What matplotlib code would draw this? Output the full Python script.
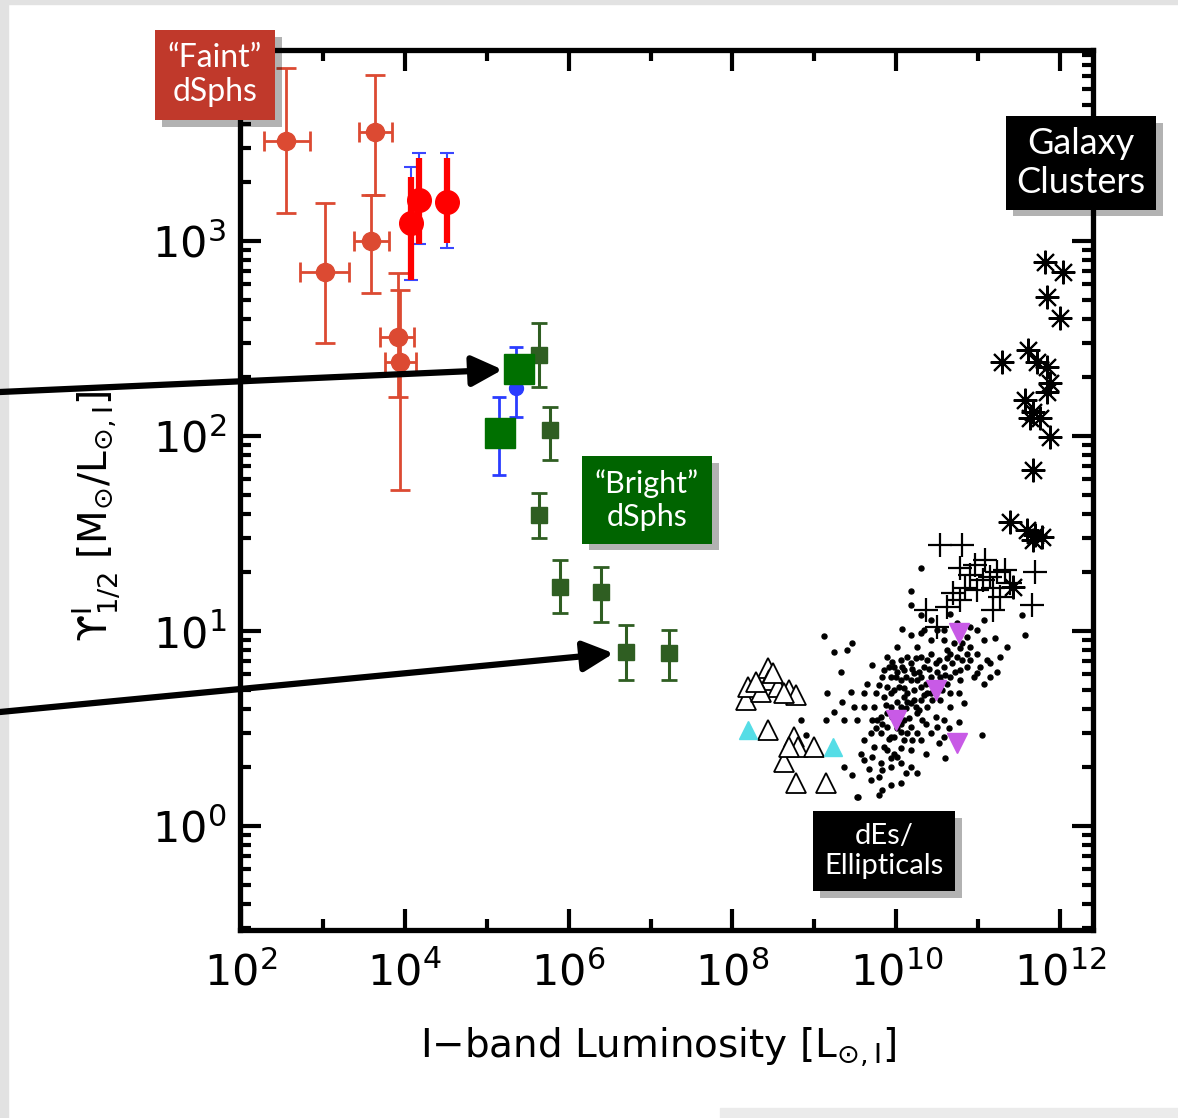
import numpy as np
import matplotlib
matplotlib.use("Agg")
import matplotlib.pyplot as plt
from matplotlib import ticker, patheffects
from matplotlib.patches import Rectangle

################################################################################
# "Faint" dSphs (older measurements): luminosity, M/L and their ranges
faint_L = np.array([353, 1054, 4285, 3828, 8395, 8650])
faint_L_lo = np.array([191, 523, 2735, 2377, 4930, 5675])
faint_L_hi = np.array([692, 2065, 6905, 6353, 13150, 13930])
faint_M = np.array([3258, 693, 3622, 1000, 322, 239])
faint_M_lo = np.array([1393, 300, 1722, 541, 158, 52.8])
faint_M_hi = np.array([7710, 1567, 7100, 1722, 685, 561])

# newly highlighted faint dSphs (red) with the old blue bars behind them
new_L = np.array([12100, 15140, 33190])
new_M = np.array([1237, 1622, 1585])
new_M_lo = np.array([631, 966, 977])
new_M_hi = np.array([2128, 2667, 2667])
old_M_lo = np.array([631, 966, 920])
old_M_hi = np.array([2393, 2825, 2825])

# blue points hidden under the big green squares
blue_L = np.array([230000, 143000])
blue_M = np.array([176, 99])
blue_M_lo = np.array([125, 63])
blue_M_hi = np.array([286, 158])

# big green squares (moved to the "bright" group)
big_L = np.array([250000, 147000])
big_M = np.array([221, 103.5])

# "Bright" dSphs
bright_L = np.array([438000, 597000, 438000, 791000, 2.49e6, 5.04e6, 1.68e7])
bright_M = np.array([260, 107, 39.4, 16.8, 15.8, 7.8, 7.7])
bright_M_lo = np.array([178, 75, 30, 12.4, 11.1, 5.6, 5.6])
bright_M_hi = np.array([379, 141, 51, 23.1, 21.3, 10.7, 10.1])

# dEs (open triangles), log10 values
tri_logL = [8.163, 8.188, 8.431, 8.443, 8.553, 8.687, 8.772, 8.346, 8.492, 8.626, 8.285,
            8.431, 8.748, 8.797, 8.992, 8.626, 8.772, 9.138, 8.687]
tri_logM = [0.646, 0.713, 0.810, 0.749, 0.713, 0.697, 0.672, 0.687, 0.785, 0.682, 0.738,
            0.492, 0.456, 0.405, 0.405, 0.328, 0.221, 0.221, 0.405]
cyan_logL = [8.188, 9.223]
cyan_logM = [0.492, 0.405]

# magenta down triangles
mag_logL = [10.762, 10.478, 9.99, 10.741]
mag_logM = [0.988, 0.697, 0.543, 0.424]

# ellipticals (small dots), log10 values
ell_logL = [10.295, 10.173, 10.173, 10.072, 9.117, 9.463, 9.239, 9.402, 9.706, 9.32,
            9.645, 9.442, 9.158, 9.341, 9.239, 9.138, 9.361, 9.605, 9.686, 9.361,
            9.463, 9.605, 9.706, 9.787, 9.929, 10.051, 9.523, 9.828, 10.254, 10.356,
            10.599, 10.518, 10.64, 10.762, 10.823, 10.762, 11.046, 11.066, 11.229, 11.269,
            11.208, 11.35, 10.944, 10.863, 10.985, 11.107, 10.904, 10.782, 10.62, 10.417,
            10.295, 10.173, 10.254, 10.011, 9.889, 9.97, 9.828, 10.051, 10.173, 10.335,
            10.478, 10.417, 10.295, 10.132, 9.97, 9.848, 9.726, 9.808, 9.929, 10.051,
            10.173, 10.295, 10.417, 10.538, 10.66, 10.579, 10.681, 10.741, 10.173, 10.092,
            10.173, 10.254, 10.376, 10.478, 10.579, 10.66, 9.889, 9.767, 9.97, 10.092,
            10.173, 9.97, 9.848, 9.726, 10.051, 9.929, 9.808, 10.173, 10.295, 10.417,
            9.564, 9.666, 9.523, 9.605, 9.929, 10.092, 10.295, 10.417, 10.579, 10.701,
            10.863, 10.985, 11.066, 10.498, 10.335, 10.62, 10.782, 10.214, 9.848, 9.483,
            9.889, 10.011, 10.214, 10.051, 10.538, 10.66, 10.498, 10.356, 10.579, 10.782,
            10.904, 11.026, 11.147, 9.909, 10.011, 10.112, 10.254, 10.356, 10.031, 9.929,
            10.092, 10.214, 10.01, 9.868, 10.112, 10.234, 9.95, 10.051, 10.153, 10.315,
            10.376, 10.457, 10.559, 10.498, 10.376, 10.234, 10.132, 10.051, 9.929, 9.808,
            10.254, 9.889, 10.011, 9.747, 9.706, 10.66, 10.802, 10.599, 10.295, 8.833,
            8.894, 11.574, 11.537, 9.527, 9.783,
            9.95, 10.072, 10.193, 10.274, 10.396, 10.518, 10.62, 10.721, 10.559, 10.437,
            10.335, 10.092, 9.99, 9.787, 9.889, 10.132, 10.275, 10.011, 9.828, 9.909,
            10.132, 10.193, 10.051, 9.929, 9.828, 10.112, 9.686, 9.605, 9.747, 10.802,
            11.066, 10.904, 10.741, 10.579, 10.417, 10.295, 10.66, 10.863, 10.985, 11.147]
ell_logM = [1.321, 1.207, 1.133, 1.013, 0.974, 0.94, 0.894, 0.902, 0.825, 0.791,
            0.731, 0.689, 0.68, 0.637, 0.586, 0.543, 0.543, 0.612, 0.475, 0.304,
            0.261, 0.338, 0.355, 0.253, 0.21, 0.219, 0.15, 0.184, 0.27, 0.372,
            0.347, 0.424, 0.501, 0.535, 0.629, 0.68, 0.466, 0.731, 0.791, 0.868,
            0.962, 0.919, 0.766, 0.817, 0.885, 0.851, 0.919, 0.911, 0.902, 0.954,
            0.988, 0.979, 0.919, 0.919, 0.868, 0.817, 0.766, 0.748, 0.834, 0.817,
            0.834, 0.766, 0.714, 0.68, 0.697, 0.663, 0.612, 0.56, 0.612, 0.612,
            0.629, 0.646, 0.68, 0.766, 0.766, 0.817, 0.834, 0.868, 0.748, 0.543,
            0.509, 0.578, 0.612, 0.56, 0.543, 0.612, 0.509, 0.543, 0.458, 0.441,
            0.39, 0.372, 0.407, 0.407, 0.321, 0.304, 0.321, 0.304, 0.441, 0.475,
            0.372, 0.295, 0.543, 0.68, 0.766, 0.8, 0.868, 0.885, 0.954, 0.937,
            0.971, 1.005, 1.056, 1.005, 1.005, 0.731, 0.748, 0.783, 0.8, 0.612,
            0.578, 0.56, 0.697, 0.851, 0.646, 0.68, 0.509, 0.526, 0.458, 0.8,
            0.851, 0.817, 0.834, 0.817, 0.791, 0.766, 0.748, 0.731, 0.714, 0.68,
            0.663, 0.646, 0.637, 0.62, 0.603, 0.612, 0.56, 0.526, 0.552, 0.543,
            0.68, 0.714, 0.697, 0.791, 0.851, 0.86, 0.868, 0.484, 0.458, 0.475,
            0.475, 0.39, 0.355, 0.68, 0.543, 0.885, 0.851, 0.774, 0.766, 0.544,
            0.467, 0.979, 1.082, 0.149, 0.159,
            0.842, 0.817, 0.808, 0.791, 0.808, 0.851, 0.86, 0.791, 0.74, 0.646,
            0.672, 0.706, 0.766, 0.723, 0.714, 0.637, 0.595, 0.501, 0.526, 0.449,
            0.475, 0.441, 0.398, 0.347, 0.287, 0.27, 0.236, 0.441, 0.501, 0.937,
            0.954, 1.022, 1.039, 1.005, 1.056, 1.082, 1.09, 0.885, 0.783, 0.766]

# giant ellipticals (plus signs)
plus_logL = [10.538, 10.806, 10.782, 10.965, 11.087, 11.147, 11.233, 11.062, 11.184, 11.696,
             11.659, 10.782, 10.624, 10.356, 11.184, 11.269, 10.843, 10.502, 11.391, 10.989,
             10.697, 10.904, 11.330]
plus_logM = [1.441, 1.441, 1.323, 1.338, 1.364, 1.277, 1.303, 1.262, 1.221, 1.303,
             1.133, 1.159, 1.123, 1.108, 1.108, 1.174, 1.221, 1.021, 1.246, 1.210,
             1.195, 1.287, 1.313]

# galaxy clusters (asterisks)
clus_logL = [11.817, 12.037, 11.842, 12.0, 11.294, 11.61, 11.72, 11.842, 11.878, 11.842,
             11.574, 11.671, 11.756, 11.635, 11.878, 11.671, 11.391, 11.598, 11.696, 11.781,
             11.671, 11.428]
clus_logM = [2.892, 2.841, 2.713, 2.605, 2.379, 2.441, 2.379, 2.354, 2.272, 2.226,
             2.185, 2.123, 2.092, 2.092, 1.995, 1.826, 1.559, 1.518, 1.492, 1.482,
             1.467, 1.226]

x_major = [1e2, 1e4, 1e6, 1e8, 1e10, 1e12]
x_minor = [1e3, 1e5, 1e7, 1e9, 1e11]
y_major = [1e0, 1e1, 1e2, 1e3]

################################################################################

plt.rcParams["mathtext.fontset"] = "dejavusans"
fig = plt.figure(figsize=(11.78, 11.18), dpi=100)
W, H = 1178.0, 1118.0

# slide frame
fig.patches.append(Rectangle((0, 0), 8 / W, 1, transform=fig.transFigure, color="#e2e2e2", zorder=-5))
fig.patches.append(Rectangle((0, 1 - 4 / H), 1, 4 / H, transform=fig.transFigure, color="#e2e2e2", zorder=-5))
fig.patches.append(Rectangle((720 / W, 0), 1, 10 / H, transform=fig.transFigure, color="#ebebeb", zorder=-5))

ax = fig.add_axes([240 / W, 1 - 930 / H, 853 / W, 880 / H])
ax.set_xscale("log")
ax.set_yscale("log")
ax.set_xlim(10 ** 1.99, 10 ** 12.4)
ax.set_ylim(10 ** -0.533, 10 ** 3.98)

# faint dSphs
ax.errorbar(faint_L, faint_M,
            xerr=[faint_L - faint_L_lo, faint_L_hi - faint_L],
            yerr=[faint_M - faint_M_lo, faint_M_hi - faint_M],
            fmt="o", color="#dc4a32", ms=13, elinewidth=2, capsize=7, capthick=2, zorder=3)
ax.errorbar(new_L, new_M, yerr=[new_M - old_M_lo, old_M_hi - new_M],
            fmt="none", ecolor="#3a46ff", elinewidth=1.5, capsize=5, capthick=1.5, zorder=3)
ax.errorbar(new_L, new_M, yerr=[new_M - new_M_lo, new_M_hi - new_M],
            fmt="o", color="#ff0000", ms=17, elinewidth=4.5, capsize=0, zorder=4)

# blue + bright dSphs
ax.errorbar(blue_L, blue_M, yerr=[blue_M - blue_M_lo, blue_M_hi - blue_M],
            fmt="o", color="#2a3cff", ms=10, elinewidth=2, capsize=5, capthick=2, zorder=3)
ax.errorbar(bright_L, bright_M, yerr=[bright_M - bright_M_lo, bright_M_hi - bright_M],
            fmt="s", color="#2f5e22", ms=12, elinewidth=2.2, capsize=6, capthick=2, zorder=3)
ax.plot(big_L, big_M, "s", color="#007000", ms=22, zorder=5)

# ellipticals etc.
ax.plot(10 ** np.array(ell_logL), 10 ** np.array(ell_logM), "o", color="k", ms=3.6, zorder=2)
ax.plot(10 ** np.array(tri_logL), 10 ** np.array(tri_logM), "^", mfc="white", mec="k", mew=1.3, ms=14, zorder=3)
ax.plot(10 ** np.array(cyan_logL), 10 ** np.array(cyan_logM), "^", color="#55dde6", ms=13, zorder=3)
ax.plot(10 ** np.array(mag_logL), 10 ** np.array(mag_logM), "v", color="#c85ae6", ms=15, zorder=4)
ax.plot(10 ** np.array(plus_logL), 10 ** np.array(plus_logM), "+", color="k", ms=17, mew=1.6, zorder=3)
ax.plot(10 ** np.array(clus_logL), 10 ** np.array(clus_logM), marker=(8, 2, 0), ls="none",
        color="k", ms=17, mew=1.5, zorder=3)

# axes style
for sp in ax.spines.values():
    sp.set_linewidth(3.8)
ax.xaxis.set_major_locator(ticker.FixedLocator(x_major))
ax.xaxis.set_minor_locator(ticker.FixedLocator(x_minor))
ax.yaxis.set_major_locator(ticker.FixedLocator(y_major))
ax.yaxis.set_minor_locator(ticker.LogLocator(base=10, subs=np.arange(2, 10)))
ax.xaxis.set_major_formatter(ticker.LogFormatterMathtext())
ax.yaxis.set_major_formatter(ticker.LogFormatterMathtext())
ax.xaxis.set_minor_formatter(ticker.NullFormatter())
ax.yaxis.set_minor_formatter(ticker.NullFormatter())
ax.tick_params(which="both", direction="in", top=True, right=True, width=3)
ax.tick_params(which="major", length=15, labelsize=31)
ax.tick_params(which="minor", length=8)
ax.tick_params(axis="x", which="major", pad=16)
ax.tick_params(axis="y", which="major", pad=10)

ax.set_xlabel(r"I$-$band Luminosity [L$_{\odot,\mathrm{I}}$]", fontsize=28)
ax.set_ylabel("\u03d2" + r"$^{\mathrm{I}}_{1/2}$ [M$_{\odot}$/L$_{\odot,\mathrm{I}}$]", fontsize=28)
ax.xaxis.set_label_coords(0.49, -0.108)
ax.yaxis.set_label_coords(-0.138, 0.47)

# arrows from the slide edge
arrow = dict(arrowstyle="-|>", lw=4.5, color="k", mutation_scale=46, shrinkA=0, shrinkB=12)
ax.annotate("", xy=(big_L[0], big_M[0]), xycoords="data", xytext=(0, H - 392),
            textcoords="figure pixels", arrowprops=arrow, annotation_clip=False, zorder=6)
ax.annotate("", xy=(bright_L[5], bright_M[5]), xycoords="data", xytext=(0, H - 712),
            textcoords="figure pixels", arrowprops=dict(arrow, shrinkB=9), annotation_clip=False, zorder=6)

# labels in boxes
shadow = [patheffects.withSimplePatchShadow(offset=(5, -5), shadow_rgbFace="k", alpha=0.3)]


def label_box(x, y, txt, fc, size, pad):
    t = fig.text(x / W, 1 - y / H, txt, ha="center", va="center", color="white",
                 fontsize=size, family="Lato", linespacing=1.2,
                 bbox=dict(boxstyle="square,pad=%.2f" % pad, fc=fc, ec="none"))
    t.get_bbox_patch().set_path_effects(shadow)
    return t


label_box(215, 75, "\u201cFaint\u201d\ndSphs", "#c0392b", 23, 0.4)
label_box(1081, 163, "Galaxy\nClusters", "black", 26, 0.3)
label_box(647, 500, "\u201cBright\u201d\ndSphs", "#006400", 22, 0.42)
label_box(884, 851, "dEs/\nEllipticals", "black", 21, 0.4)

fig.savefig("out.png", dpi=100)
